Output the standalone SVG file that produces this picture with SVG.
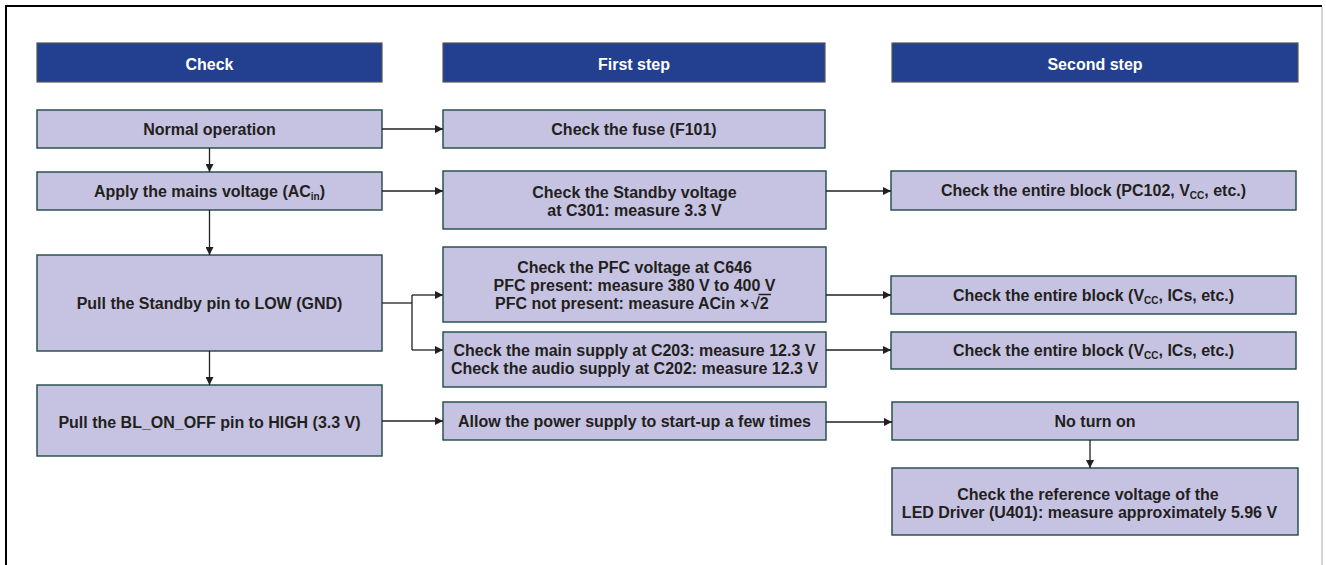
<svg xmlns="http://www.w3.org/2000/svg" width="1326" height="565" viewBox="0 0 1326 565">
<style>
.hdr rect{fill:#233F8F;stroke:#555;stroke-width:1.2}
.hdr text{fill:#fff;font-family:"Liberation Sans",Arial,sans-serif;font-weight:bold;font-size:16px;text-anchor:middle}
.nd rect{fill:#C6C3E2;stroke:#1F4848;stroke-width:1.4}
.nd text{fill:#231F20;font-family:"Liberation Sans",Arial,sans-serif;font-weight:bold;font-size:16px;text-anchor:middle}
.nd text.st{text-anchor:start}
.sub{font-size:10px}
#connectors path{fill:none;stroke:#231F20;stroke-width:1.3}
</style>
<defs>
<marker id="ah" viewBox="0 0 10 10" refX="10" refY="5" markerWidth="8" markerHeight="8" markerUnits="userSpaceOnUse" orient="auto">
<path d="M0,0 L10,5 L0,10 z" fill="#231F20"/>
</marker>
</defs>
<rect x="0" y="0" width="1326" height="565" fill="#fff"/>
<g id="frame">
<path d="M6,565 V6 H1322" fill="none" stroke="#000" stroke-width="2"/>
<path d="M1322,7 V565" fill="none" stroke="#aaa" stroke-width="1"/>
</g>
<g id="hdr-check" class="hdr"><rect x="37" y="43" width="345" height="39"/><text x="209.5" y="69.5">Check</text></g>
<g id="hdr-first" class="hdr"><rect x="443" y="43" width="382" height="39"/><text x="634" y="69.5">First step</text></g>
<g id="hdr-second" class="hdr"><rect x="892" y="43" width="406" height="39"/><text x="1095" y="69.5">Second step</text></g>

<g id="n-normal" class="nd"><rect x="37" y="110" width="345" height="38"/><text x="209.5" y="134.5">Normal operation</text></g>
<g id="n-fuse" class="nd"><rect x="443" y="110" width="382" height="38"/><text x="634" y="134.5">Check the fuse (F101)</text></g>
<g id="n-apply" class="nd"><rect x="37" y="172" width="345" height="38"/><text x="209.5" y="196.5">Apply the mains voltage (AC<tspan class="sub" dy="3">in</tspan><tspan dy="-3">)</tspan></text></g>
<g id="n-standbyv" class="nd"><rect x="443" y="171" width="383" height="58"/><text x="634.5" y="197.5">Check the Standby voltage</text><text x="634.5" y="215.5">at C301: measure 3.3 V</text></g>
<g id="n-pc102" class="nd"><rect x="891" y="171" width="405" height="39"/><text x="1093.5" y="196">Check the entire block (PC102, V<tspan class="sub" dy="3">CC</tspan><tspan dy="-3">, etc.)</tspan></text></g>
<g id="n-pullstandby" class="nd"><rect x="37" y="255" width="345" height="96"/><text x="209.5" y="308.5">Pull the Standby pin to LOW (GND)</text></g>
<g id="n-pfc" class="nd"><rect x="443" y="247" width="383" height="75"/><text x="634.5" y="272.5">Check the PFC voltage at C646</text><text x="634.5" y="290.5">PFC present: measure 380 V to 400 V</text><text class="st" x="495" y="308.5">PFC not present: measure ACin ×</text><text class="st" x="751" y="308.5">√2</text><path d="M758.5,294.5 H771" stroke="#231F20" stroke-width="1.5" fill="none"/></g>
<g id="n-vcc1" class="nd"><rect x="891" y="276" width="405" height="38"/><text x="1093.5" y="300.5">Check the entire block (V<tspan class="sub" dy="3">CC</tspan><tspan dy="-3">, ICs, etc.)</tspan></text></g>
<g id="n-main" class="nd"><rect x="443" y="332" width="383" height="55"/><text x="634.5" y="355.5">Check the main supply at C203: measure 12.3 V</text><text x="634.5" y="373.5">Check the audio supply at C202: measure 12.3 V</text></g>
<g id="n-vcc2" class="nd"><rect x="891" y="332" width="405" height="37"/><text x="1093.5" y="356">Check the entire block (V<tspan class="sub" dy="3">CC</tspan><tspan dy="-3">, ICs, etc.)</tspan></text></g>
<g id="n-bl" class="nd"><rect x="37" y="385" width="345" height="71"/><text x="209.5" y="427.5">Pull the BL_ON_OFF pin to HIGH (3.3 V)</text></g>
<g id="n-allow" class="nd"><rect x="443" y="402" width="383" height="38"/><text x="634.5" y="426.5">Allow the power supply to start-up a few times</text></g>
<g id="n-noturn" class="nd"><rect x="892" y="402" width="406" height="38"/><text x="1095" y="427">No turn on</text></g>
<g id="n-ref" class="nd"><rect x="892" y="468" width="406" height="67"/><text x="1088" y="499.5">Check the reference voltage of the</text><text x="1089.5" y="517.5">LED Driver (U401): measure approximately 5.96 V</text></g>

<g id="connectors">
<path d="M382,129 H443" marker-end="url(#ah)"/>
<path d="M209.5,148 V172" marker-end="url(#ah)"/>
<path d="M382,191 H443" marker-end="url(#ah)"/>
<path d="M209.5,210 V255" marker-end="url(#ah)"/>
<path d="M826,191 H891" marker-end="url(#ah)"/>
<path d="M382,303 H412"/>
<path d="M412,295 V350"/>
<path d="M412,295 H443" marker-end="url(#ah)"/>
<path d="M412,350 H443" marker-end="url(#ah)"/>
<path d="M826,295 H891" marker-end="url(#ah)"/>
<path d="M826,350 H891" marker-end="url(#ah)"/>
<path d="M209.5,351 V385" marker-end="url(#ah)"/>
<path d="M382,421 H443" marker-end="url(#ah)"/>
<path d="M826,422 H892" marker-end="url(#ah)"/>
<path d="M1090,440 V468" marker-end="url(#ah)"/>
</g>
</svg>
